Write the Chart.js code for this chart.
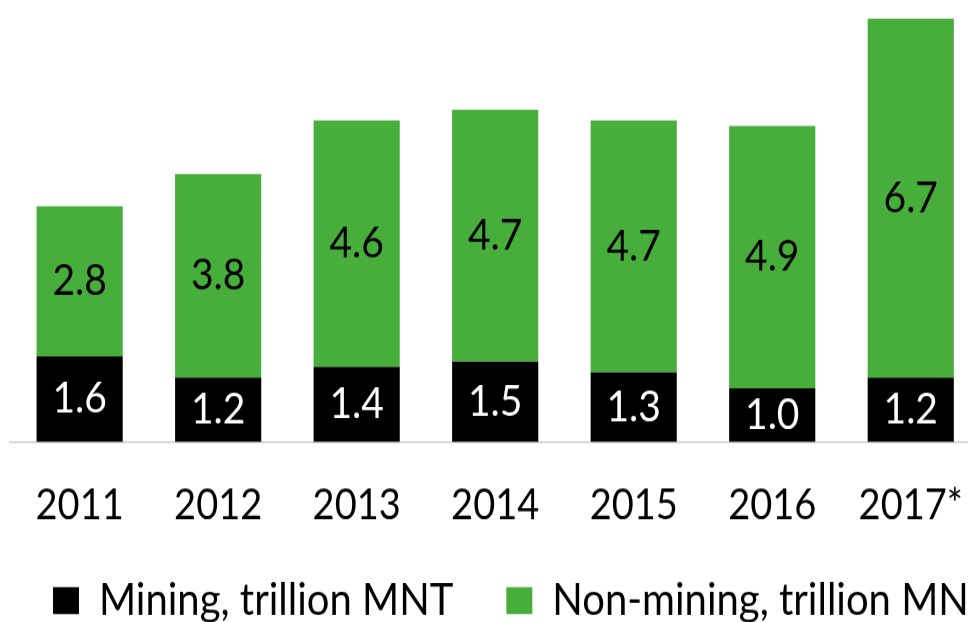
<!DOCTYPE html>
<html>
<head>
<meta charset="utf-8">
<script src="https://cdn.jsdelivr.net/npm/chart.js@4"></script>
<style>
  html, body { margin: 0; padding: 0; background: #fff; }
  #frame { width: 968px; height: 622px; overflow: hidden; position: relative; }
  /* the source picture is a bit stretched vertically, so draw flatter and scale up */
  #myChart { display: block; transform: scaleY(1.1); transform-origin: 0 0; }
</style>
</head>
<body>
<div id="frame"><canvas id="myChart" width="1100" height="576"></canvas></div>
<script>
const years = ['2011', '2012', '2013', '2014', '2015', '2016', '2017*'];
const mining = [1.6, 1.2, 1.4, 1.5, 1.3, 1.0, 1.2];
const nonMining = [2.8, 3.8, 4.6, 4.7, 4.7, 4.9, 6.7];

const green = '#47AE3C';

// values written in the middle of every bar segment
const barLabels = {
  id: 'barLabels',
  afterDatasetsDraw(chart) {
    const ctx = chart.ctx;
    ctx.save();
    ctx.font = '39px Lato';
    ctx.textAlign = 'center';
    ctx.textBaseline = 'middle';
    chart.data.datasets.forEach((ds, i) => {
      chart.getDatasetMeta(i).data.forEach((bar, j) => {
        const p = bar.getProps(['x', 'y', 'base'], true);
        ctx.fillStyle = ds.labelColor;
        ctx.fillText(ds.data[j].toFixed(1), p.x, (p.y + p.base) / 2);
      });
    });
    ctx.restore();
  }
};

const data = {
  labels: years,
  datasets: [
    {label: 'Mining, trillion MNT', data: mining, backgroundColor: '#000000', labelColor: '#ffffff', borderWidth: 0},
    {label: 'Non-mining, trillion MNT', data: nonMining, backgroundColor: green, labelColor: '#000000', borderWidth: 0}
  ]
};

const hidden = {display: false, drawTicks: false};

const config = {
  type: 'bar',
  data: data,
  options: {
    responsive: false,
    animation: false,
    layout: {padding: 0},
    datasets: {bar: {barPercentage: 0.622, categoryPercentage: 1}},
    scales: {
      x: {
        stacked: true,
        grid: hidden,
        border: {display: true, color: '#d9d9d9', width: 2},
        ticks: {color: '#000', font: {family: 'Lato', size: 38}, padding: 35, maxRotation: 0, autoSkip: false},
        afterFit: scale => { scale.height = 71.2; }
      },
      y: {
        stacked: true,
        min: 0,
        max: 8.25,
        grid: hidden,
        border: {display: false},
        ticks: {display: false},
        afterFit: scale => { scale.width = 8; }
      },
      // empty axis on the right only to keep the plot narrower than the legend
      yRight: {
        type: 'linear',
        position: 'right',
        grid: hidden,
        border: {display: false},
        ticks: {display: false},
        afterFit: scale => { scale.width = 120; }
      }
    },
    plugins: {
      legend: {
        position: 'bottom',
        align: 'start',
        labels: {color: '#000', font: {family: 'Lato', size: 40}, boxWidth: 26, boxHeight: 24.5, padding: 53}
      },
      tooltip: {enabled: false}
    }
  },
  plugins: [barLabels]
};

let myChart = new Chart(document.getElementById('myChart'), config);
</script>
</body>
</html>
